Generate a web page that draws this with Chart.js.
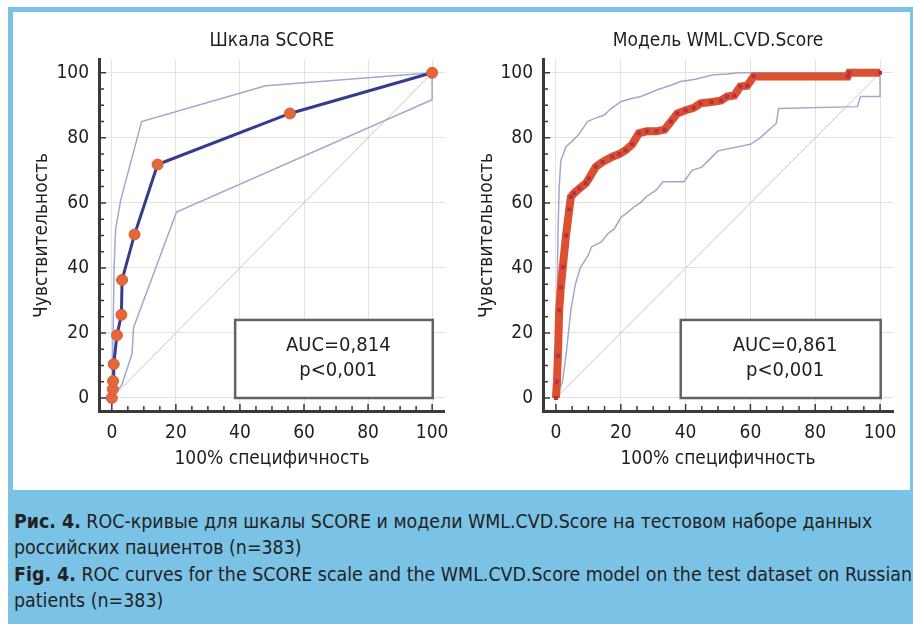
<!DOCTYPE html>
<html>
<head>
<meta charset="utf-8">
<script src="https://cdn.jsdelivr.net/npm/chart.js@4.4.1/dist/chart.umd.min.js"></script>
<style>
  body { margin: 0; background: #fff; width: 913px; height: 624px; overflow: hidden; position: relative;
         font-family: 'Liberation Sans Narrow', 'DejaVu Sans Condensed', sans-serif; }
  #frame { position: absolute; left: 8px; top: 7px; width: 905px; height: 617px; background: #7bc3e6; }
  #panel { position: absolute; left: 13px; top: 12px; width: 897px; height: 478px; background: #fff; }
  .box { position: absolute; top: 12px; height: 478px; }
  #caption { position: absolute; left: 14px; top: 509px; font-size: 19.4px; line-height: 26.3px;
             color: #222; white-space: nowrap; }
</style>
</head>
<body>
<div id="frame"></div>
<div id="panel"></div>
<div class="box" style="left:13px;width:447px"><canvas id="scoreChart"></canvas></div>
<div class="box" style="left:460px;width:450px"><canvas id="wmlChart"></canvas></div>
<div id="caption"><b>Рис. 4.</b> ROC-кривые для шкалы SCORE и модели WML.CVD.Score на тестовом наборе данных<br>российских пациентов (n=383)<br><b>Fig. 4.</b> ROC curves for the SCORE scale and the WML.CVD.Score model on the test dataset on Russian<br>patients (n=383)</div>

<script>
const tickValues = [0, 20, 40, 60, 80, 100];

const diagX = [0, 100];
const diagY = [0, 100];

// SCORE scale
const scoreX = [0, 0.3, 0.4, 0.6, 1.6, 3.0, 3.2, 7.1, 14.3, 55.6, 100];
const scoreY = [0, 2.7, 5.2, 10.4, 19.3, 25.6, 36.3, 50.3, 71.8, 87.5, 100];
const scoreUpX = [0, 0.4, 0.7, 1.2, 2.8, 9.3, 48, 100];
const scoreUpY = [0, 20, 40, 52, 61, 85, 96, 100];
const scoreLoX = [0, 3.2, 6.3, 6.8, 20.2, 100, 100];
const scoreLoY = [0, 4.2, 13.6, 21.7, 57.2, 91.7, 100];

// WML.CVD.Score model
const wmlX = [0, 0.3, 0.6, 1.0, 1.5, 2.1, 3.1, 4.1, 4.6, 5.6, 7.2, 9.2, 10.2, 12.3, 14.4, 17.4, 19.5, 21.5, 23.5, 25.6,
              28, 31, 33.5, 35.5, 37.4, 40, 42.5, 44.6, 48, 51, 52.8, 55, 56.9, 59, 61, 90, 90.5, 100];
const wmlY = [0, 5, 13, 27, 34, 40.2, 50, 58, 61.8, 63, 64.4, 66, 67.5, 71.1, 72.6, 74.2, 75, 76.2, 78, 81.4,
              82, 82, 82.5, 85, 87.5, 88.5, 89.2, 90.6, 91, 91.5, 92.7, 93, 95.8, 96, 98.9, 98.9, 100, 100];
const wmlUpX = [0, 0.3, 0.6, 1.0, 1.5, 3.1, 5, 7, 9.7, 12, 14.9, 17, 20, 23, 26.2, 31.3, 35, 38.5, 43, 48.7, 53, 56, 100];
const wmlUpY = [0, 25, 50, 65, 73, 77.3, 79, 81, 85, 86, 87, 89, 91.1, 92, 92.7, 94.8, 96, 97.3, 98, 99.4, 99.6, 100, 100];
const wmlLoX = [0, 2, 3.2, 4.6, 6, 7.5, 10, 11, 14, 16, 18, 20, 22, 24, 26, 28, 31, 33, 39.5, 42, 45, 47, 50,
                60, 63, 68, 68.7, 93, 94, 100, 100];
const wmlLoY = [0, 5, 14, 27, 35, 40, 44, 46.5, 48, 50.5, 52, 55.5, 57, 58.7, 60, 62, 64, 66.5, 66.5, 70, 71, 73, 76,
                78, 80, 84.5, 89, 89.6, 92.7, 92.7, 100];

const FONT = "'Liberation Sans Narrow', 'DejaVu Sans Condensed', sans-serif";
const TXT = '#1f1f1f';

function pts(xs, ys) {
  return xs.map((x, i) => ({x: x, y: ys[i]}));
}

// small tick marks pointing into the plot, every 5 units
const insideTicks = {
  id: 'insideTicks',
  afterDraw(chart) {
    const {ctx, chartArea: a, scales: {x, y}} = chart;
    ctx.save();
    ctx.strokeStyle = '#3a3a3a';
    ctx.lineWidth = 1.5;
    for (let v = 0; v <= 100; v += 5) {
      const len = v % 20 === 0 ? 7 : 5;
      const px = x.getPixelForValue(v);
      const py = y.getPixelForValue(v);
      ctx.beginPath();
      ctx.moveTo(px, a.bottom);
      ctx.lineTo(px, a.bottom - len);
      ctx.moveTo(a.left, py);
      ctx.lineTo(a.left + len, py);
      ctx.stroke();
    }
    ctx.restore();
  }
};

// AUC label box in the lower right of the plot
const aucBox = {
  id: 'aucBox',
  afterDatasetsDraw(chart, args, o) {
    const {ctx, scales: {x, y}} = chart;
    const l = x.getPixelForValue(38.5), r = x.getPixelForValue(100.2);
    const t = y.getPixelForValue(24), b = y.getPixelForValue(0);
    ctx.save();
    ctx.fillStyle = '#fff';
    ctx.fillRect(l, t, r - l, b - t);
    ctx.strokeStyle = '#626262';
    ctx.lineWidth = 2.5;
    ctx.strokeRect(l, t, r - l, b - t);
    ctx.fillStyle = TXT;
    ctx.font = '20px ' + FONT;
    ctx.textAlign = 'center';
    ctx.textBaseline = 'middle';
    const cx = x.getPixelForValue(70.7);
    ctx.fillText(o.lines[0], cx, y.getPixelForValue(16));
    ctx.fillText(o.lines[1], cx, y.getPixelForValue(8.3));
    ctx.restore();
  }
};

function thin(xs, ys, color, width) {
  return {data: pts(xs, ys), showLine: true, borderColor: color, borderWidth: width, pointRadius: 0, tension: 0};
}

function makeChart(id, title, datasets, axisW, rightPad, yTitlePad, auc) {
  return new Chart(document.getElementById(id), {
    type: 'scatter',
    data: {datasets: datasets},
    plugins: [aucBox, insideTicks],
    options: {
      responsive: true,
      maintainAspectRatio: false,
      animation: false,
      layout: {padding: {left: 0, right: rightPad, top: 0, bottom: 0}},
      plugins: {
        legend: {display: false},
        tooltip: {enabled: false},
        title: {display: true, text: title, fullSize: false, color: TXT,
                font: {family: FONT, size: 19, weight: 'normal'}, padding: {top: 18, bottom: 7}},
        aucBox: {lines: auc}
      },
      scales: {
        x: {
          type: 'linear', min: -4, max: 104,
          afterBuildTicks: s => { s.ticks = tickValues.map(v => ({value: v})); },
          afterFit: s => { s.height = 79; },
          grid: {color: '#e2e2e2', drawTicks: false},
          border: {color: '#3a3a3a', width: 3},
          ticks: {padding: 11, color: TXT, font: {family: FONT, size: 19}},
          title: {display: true, text: '100% специфичность', color: TXT,
                  font: {family: FONT, size: 19}, padding: {top: 0, bottom: 20}}
        },
        y: {
          type: 'linear', min: -4, max: 104,
          afterBuildTicks: s => { s.ticks = tickValues.map(v => ({value: v})); },
          afterFit: s => { s.width = axisW; },
          grid: {color: '#e2e2e2', drawTicks: false},
          border: {color: '#3a3a3a', width: 3},
          ticks: {padding: 10, color: TXT, font: {family: FONT, size: 19}},
          title: {display: true, text: 'Чувствительность', color: TXT,
                  font: {family: FONT, size: 19}, padding: {top: yTitlePad, bottom: 0}}
        }
      }
    }
  });
}

makeChart('scoreChart', 'Шкала SCORE', [
  {data: pts(scoreX, scoreY), showLine: true, borderColor: '#363b8c', borderWidth: 3, tension: 0,
   pointRadius: 5.5, pointBackgroundColor: '#e2683c', pointBorderColor: '#d65c38', pointBorderWidth: 1},
  thin(scoreUpX, scoreUpY, '#a3a6d0', 1.5),
  thin(scoreLoX, scoreLoY, '#a3a6d0', 1.5),
  thin(diagX, diagY, '#c6c6d0', 1)
], 86, 9, 18, ['AUC=0,814', 'p<0,001']);

makeChart('wmlChart', 'Модель WML.CVD.Score', [
  {data: pts(wmlX, wmlY), showLine: true, borderColor: '#dc4f2f', borderWidth: 8, tension: 0,
   pointStyle: 'rect', pointRadius: 2.8, pointBackgroundColor: '#b3304b', pointBorderWidth: 0},
  thin(wmlUpX, wmlUpY, '#a3a6d0', 1.5),
  thin(wmlLoX, wmlLoY, '#a3a6d0', 1.5),
  thin(diagX, diagY, '#c6c6d0', 1)
], 83, 17, 16, ['AUC=0,861', 'p<0,001']);
</script>
</body>
</html>
